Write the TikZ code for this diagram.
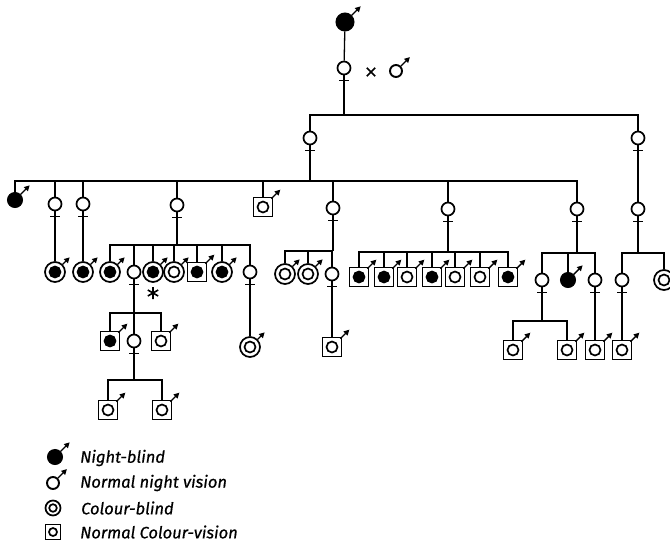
\documentclass[tikz,border=0pt]{standalone}
\usepackage{fontspec}
\setsansfont{Fira Sans}
\newfontfamily\legfont{Fira Sans}[FakeBold=0.6]
\usetikzlibrary{arrows.meta,calc}
\newcommand\PFem[2]{%
  \node[femc] (#1) at (#2) {};
  \draw[sym] (#1.south) -- ++(0,11) coordinate (#1-b);
  \draw[sym] ($(#1.south)+(-5,5)$) -- ++(10,0);}
\newcommand\PNBP[2]{%
  \node[nbp] (#1) at (#2) {};
  \draw[arr] (#1.45) -- ++(9,-9);}
\newcommand\PNP[2]{%
  \node[np] (#1) at (#2) {};
  \draw[arr] (#1.45) -- ++(9,-9);}
\newcommand\PRing[3]{%
  \node[ring] (#1) at (#2) {};
  \draw[sym,fill=#3] (#1.center) circle[radius=5.5pt];
  \draw[arr] (#1.45) -- ++(7,-7);}
\newcommand\PSqr[3]{%
  \node[sqr] (#1) at (#2) {};
  \draw[sym,fill=#3] (#1.center) circle[radius=5.5pt];
  \draw[arr] ($(#1.north east)+(-2,2)$) -- ++(9,-9);}
\begin{document}
\begin{tikzpicture}[x=1pt,y=-1pt,
  sym/.style={line width=1.7pt},
  ln/.style={line width=1.3pt},
  femc/.style={circle,draw,line width=1.7pt,minimum size=13pt,inner sep=0pt,fill=white},
  nbp/.style={circle,draw,fill=black,line width=1pt,minimum size=15pt,inner sep=0pt},
  np/.style={circle,draw,line width=1.9pt,minimum size=12pt,inner sep=0pt},
  ring/.style={circle,draw,line width=1.7pt,minimum size=20pt,inner sep=0pt,fill=white},
  sqr/.style={rectangle,draw,line width=1.7pt,minimum size=19pt,inner sep=0pt,fill=white},
  lring/.style={circle,draw,line width=1.7pt,minimum size=15pt,inner sep=0pt},
  lsqr/.style={rectangle,draw,line width=1.7pt,minimum size=15pt,inner sep=0pt},
  arr/.style={line width=1.4pt,-{Triangle[length=5.5pt,width=5.5pt]}},
  lab/.style={anchor=west,font=\legfont\itshape\fontsize{16.5}{17}\selectfont,inner sep=0pt}]
\useasboundingbox (0,0) rectangle (670,547);
\fill[white] (0,0) rectangle (670,547);
% generation 0
\node[nbp,minimum size=18pt] (g0) at (345,22) {};
\draw[arr] (g0.45) -- ++(9,-9);
\PFem{g0f}{344,68}
\node[minimum size=8pt,inner sep=0pt] (cross) at (371,72) {};
\draw[line width=1.6pt] (cross.north west) -- (cross.south east)
  (cross.south west) -- (cross.north east);
\PNP{g0m}{396,71}
\draw[ln] (g0) -- (g0f);
\coordinate (L1) at (0,115);
\draw[ln] (g0f-b) -- (g0f-b |- L1);
% generation 1
\PFem{g1a}{310,138}
\PFem{g1b}{638,138}
\draw[ln] (g1a.north) |- (g1b.north |- L1) -- (g1b.north);
% generation 2
\coordinate (L2) at (0,181);
\draw[ln] (g1a-b) -- (g1a-b |- L2);
\PNBP{c1}{15,200}
\PFem{c2}{55,204}
\PFem{c3}{83,204}
\PFem{c4}{177,205}
\PSqr{c5}{263,207}{white}
\PFem{c6}{333,208}
\PFem{c7}{448,209}
\PFem{c8}{577,209}
\draw[ln] (c1.north) |- (c8.north |- L2) -- (c8.north);
\foreach \n in {c2,c3,c4,c5,c6,c7} \draw[ln] (\n.north) -- (\n.north |- L2);
\PFem{g2r}{638,209}
\draw[ln] (g1b-b) -- (g2r.north);
% generation 3
\PRing{d1}{55,272}{black}
\PRing{d2}{83,272}{black}
\draw[ln] (c2-b) -- (d1.north);
\draw[ln] (c3-b) -- (d2.north);
\coordinate (L4) at (0,245);
\PRing{e1}{110,272}{black}
\PFem{e2}{134,272}
\PRing{e3}{153,272}{black}
\PRing{e4}{174,272}{white}
\PSqr{e5}{197,272}{black}
\PRing{e6}{222,272}{black}
\PFem{e7}{250,272}
\draw[ln] (c4-b) -- (c4-b |- L4);
\draw[ln] (e1.north) |- (e7.north |- L4) -- (e7.north);
\foreach \n in {e2,e3,e4,e5,e6} \draw[ln] (\n.north) -- (\n.north |- L4);
\node[inner sep=0pt] (star) at (153,293) {};
\draw[line width=1.6pt] (star) ++(0,-6) -- ++(0,12)
  (star) ++(-5.2,-3) -- ++(10.4,6) (star) ++(-5.2,3) -- ++(10.4,-6);
\coordinate (L6) at (0,251);
\PRing{h1}{285,274}{white}
\PRing{h2}{308,274}{white}
\PFem{h3}{332,274}
\draw[ln] (c6-b) -- (c6-b |- L6);
\draw[ln] (h1.north) |- (h3.north |- L6) -- (h3.north);
\draw[ln] (h2.north) -- (h2.north |- L6);
\coordinate (L7) at (0,252);
\PSqr{k1}{359,277}{black}
\PSqr{k2}{384,277}{black}
\PSqr{k3}{407,277}{white}
\PSqr{k4}{432,277}{black}
\PSqr{k5}{455,277}{white}
\PSqr{k6}{480,277}{white}
\PSqr{k7}{508,277}{black}
\draw[ln] (c7-b) -- (c7-b |- L7);
\draw[ln] (k1.north) |- (k7.north |- L7) -- (k7.north);
\foreach \n in {k2,k3,k4,k5,k6} \draw[ln] (\n.north) -- (\n.north |- L7);
\coordinate (L8) at (0,253);
\PFem{m1}{542,280}
\PNBP{m2}{568,280}
\PFem{m3}{595,280}
\draw[ln] (c8-b) -- (c8-b |- L8);
\draw[ln] (m1.north) |- (m3.north |- L8) -- (m3.north);
\draw[ln] (m2.north) -- (m2.north |- L8);
\PFem{n1}{622,280}
\PRing{n2}{664,280}{white}
\draw[ln] (g2r-b) -- (g2r-b |- L8);
\draw[ln] (n1.north) |- (n2.north |- L8) -- (n2.north);
% generation 4
\coordinate (L10) at (0,313);
\PSqr{f1}{110,341}{black}
\PFem{f2}{134,341}
\PSqr{f3}{161,341}{white}
\draw[ln] (e2-b) -- (e2-b |- L10);
\draw[ln] (f1.north) |- (f3.north |- L10) -- (f3.north);
\draw[ln] (f2.north) -- (f2.north |- L10);
\PRing{f4}{250,347}{white}
\draw[ln] (e7-b) -- (f4.north);
\PSqr{f5}{332,347}{white}
\draw[ln] (h3-b) -- (f5.north);
\coordinate (L11) at (0,321);
\PSqr{p1}{513,350}{white}
\PSqr{p2}{567,350}{white}
\draw[ln] (m1-b) -- (m1-b |- L11);
\draw[ln] (p1.north) |- (p2.north |- L11) -- (p2.north);
\PSqr{p3}{595,350}{white}
\draw[ln] (m3-b) -- (p3.north);
\PSqr{p4}{622,350}{white}
\draw[ln] (n1-b) -- (p4.north);
% generation 5
\coordinate (L12) at (0,380);
\PSqr{q1}{108,410}{white}
\PSqr{q2}{162,410}{white}
\draw[ln] (f2-b) -- (f2-b |- L12);
\draw[ln] (q1.north) |- (q2.north |- L12) -- (q2.north);
% legend
\PNBP{lg1}{55,457}
\PNP{lg2}{53,483}
\node[lring] (lg3) at (53,508) {};
\draw[sym] (lg3.center) circle[radius=3.8pt];
\node[lsqr] (lg4) at (53,532) {};
\draw[sym] (lg4.center) circle[radius=4pt];
\node[lab] (t1) at (80,458) {Night-blind};
\node[lab] (t2) at (80,483) {Normal night vision};
\node[lab] (t3) at (81,508) {Colour-blind};
\node[lab] (t4) at (80,532) {Normal Colour-vision};
\end{tikzpicture}
\end{document}
